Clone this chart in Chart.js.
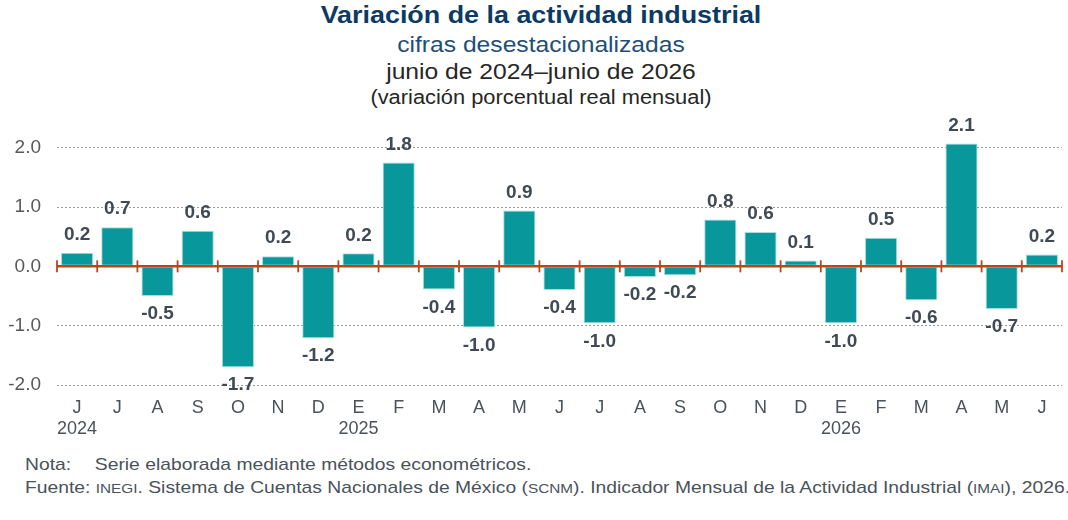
<!DOCTYPE html>
<html>
  <head>
    <meta charset="utf-8">
    <title>Variación de la actividad industrial</title>
    <script src="https://cdn.jsdelivr.net/npm/chart.js"></script>
    <style>
      body {
        margin: 0;
        width: 1068px;
        height: 520px;
        background: #fff;
        font-family: 'Liberation Sans', Arial, sans-serif;
        position: relative;
        overflow: hidden;
      }
      .head {
        position: absolute;
        left: 7px;
        width: 1068px;
        text-align: center;
        white-space: nowrap;
        transform: scaleX(1.12);
        transform-origin: 534px 0;
      }
      #t1 { top: 1px; font-size: 24px; font-weight: bold; color: #0b3a64; }
      #t2 { top: 32px; font-size: 22px; color: #1f4e79; }
      #t3 { top: 59px; font-size: 22px; color: #262626; }
      #t4 { top: 86px; font-size: 19.5px; color: #262626; }
      #wrap {
        position: absolute;
        left: 0;
        top: 100px;
        width: 1068px;
        height: 350px;
      }
      .foot {
        position: absolute;
        left: 25px;
        font-size: 17px;
        color: #4a525a;
        white-space: nowrap;
        transform: scaleX(1.135);
        transform-origin: 0 0;
      }
      .sc { font-size: 13.5px; }
    </style>
  </head>
  <body>
    <div class="head" id="t1">Variación de la actividad industrial</div>
    <div class="head" id="t2">cifras desestacionalizadas</div>
    <div class="head" id="t3">junio de 2024–junio de 2026</div>
    <div class="head" id="t4">(variación porcentual real mensual)</div>
    <div id="wrap"><canvas id="chart"></canvas></div>
    <div class="foot" style="top: 455px;"><span style="display: inline-block; width: 61.5px;">Nota:</span>Serie elaborada mediante métodos econométricos.</div>
    <div class="foot" style="top: 478px;">Fuente: <span class="sc">INEGI</span>. Sistema de Cuentas Nacionales de México (<span class="sc">SCNM</span>). Indicador Mensual de la Actividad Industrial (<span class="sc">IMAI</span>), 2026.</div>

    <script>
      // months jun 2024 - jun 2026
      const months = ['J', 'J', 'A', 'S', 'O', 'N', 'D', 'E', 'F', 'M', 'A', 'M', 'J',
        'J', 'A', 'S', 'O', 'N', 'D', 'E', 'F', 'M', 'A', 'M', 'J']
      const years = ['2024', '', '', '', '', '', '', '2025', '', '', '', '', '',
        '', '', '', '', '', '', '2026', '', '', '', '', '']
      // bar heights
      const values = [0.23, 0.66, -0.5, 0.6, -1.7, 0.17, -1.21, 0.22, 1.75, -0.39, -1.03, 0.94, -0.4,
        -0.96, -0.18, -0.15, 0.79, 0.58, 0.1, -0.96, 0.48, -0.57, 2.07, -0.72, 0.2]
      // printed labels
      const printed = ['0.2', '0.7', '-0.5', '0.6', '-1.7', '0.2', '-1.2', '0.2', '1.8', '-0.4', '-1.0', '0.9', '-0.4',
        '-1.0', '-0.2', '-0.2', '0.8', '0.6', '0.1', '-1.0', '0.5', '-0.6', '2.1', '-0.7', '0.2']
      const yTicks = [-2, -1, 0, 1, 2]

      const labels = months.map((m, i) => (years[i] ? [m, years[i]] : m))

      const barColor = '#08979a'
      const zeroColor = '#c0441a'
      const textColor = '#404a55'
      const font = '"Liberation Sans", Arial, sans-serif'

      // zero line with category ticks, plus value labels
      const overlay = {
        id: 'overlay',
        afterDatasetsDraw(chart) {
          const ctx = chart.ctx
          const y = chart.scales.y
          const area = chart.chartArea
          const y0 = y.getPixelForValue(0)
          ctx.save()
          ctx.strokeStyle = zeroColor
          ctx.lineWidth = 2.5
          ctx.beginPath()
          ctx.moveTo(area.left, y0)
          ctx.lineTo(area.right, y0)
          ctx.stroke()
          ctx.lineWidth = 1.8
          const step = (area.right - area.left) / months.length
          for (let i = 0; i <= months.length; i++) {
            const px = area.left + i * step
            ctx.beginPath()
            ctx.moveTo(px, y0 - 6)
            ctx.lineTo(px, y0 + 6)
            ctx.stroke()
          }
          ctx.fillStyle = textColor
          ctx.font = 'bold 19px ' + font
          ctx.textAlign = 'center'
          ctx.textBaseline = 'middle'
          const meta = chart.getDatasetMeta(0)
          meta.data.forEach((bar, i) => {
            const py = values[i] >= 0 ? bar.y - 18 : bar.y + 18
            ctx.fillText(printed[i], bar.x, py)
          })
          ctx.restore()
        }
      }

      new Chart(document.getElementById('chart'), {
        type: 'bar',
        data: {
          labels: labels,
          datasets: [
            {
              data: values,
              backgroundColor: barColor,
              borderColor: '#a9dcdc',
              borderWidth: 1,
              borderSkipped: false,
              categoryPercentage: 0.8,
              barPercentage: 1
            }
          ]
        },
        options: {
          responsive: true,
          maintainAspectRatio: false,
          animation: false,
          layout: { padding: { top: 18, right: 6, left: 0, bottom: 0 } },
          scales: {
            x: {
              grid: { display: false },
              border: { display: false },
              ticks: {
                color: '#4a525a',
                font: { size: 18, family: font },
                padding: 4,
                maxRotation: 0,
                autoSkip: false
              },
              afterFit: scale => { scale.height = 65 }
            },
            y: {
              min: -2,
              max: 2.5,
              afterBuildTicks: axis => {
                axis.ticks = yTicks.map(v => ({ value: v }))
              },
              afterFit: scale => {
                scale.width = 57
                scale.paddingTop = 0
                scale.paddingBottom = 0
              },
              border: { display: false, dash: [2, 2] },
              grid: {
                color: ctx => (ctx.tick && ctx.tick.value === 0 ? 'rgba(0,0,0,0)' : '#9a9a9a'),
                lineWidth: 1,
                drawTicks: false
              },
              ticks: {
                color: '#595959',
                font: { size: 19, family: font },
                padding: 16,
                callback: v => v.toFixed(1)
              }
            }
          },
          plugins: {
            legend: { display: false },
            tooltip: { enabled: false }
          }
        },
        plugins: [overlay]
      })
    </script>
  </body>
</html>
